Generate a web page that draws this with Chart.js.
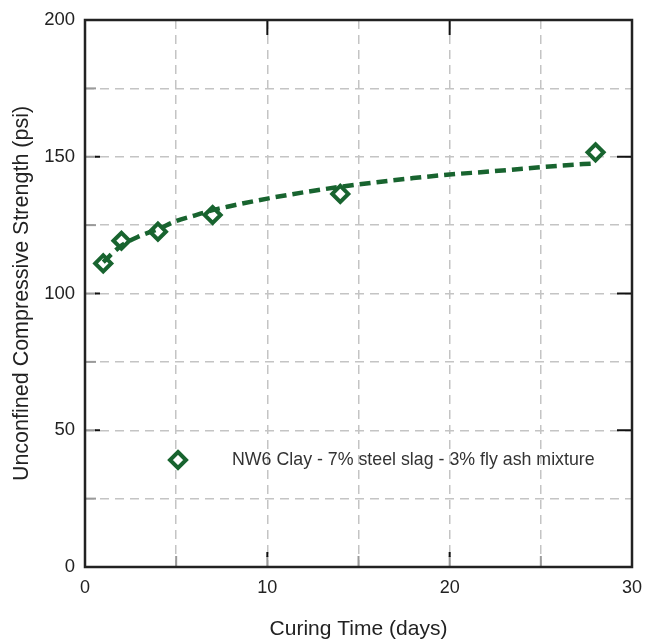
<!DOCTYPE html>
<html>
<head>
<meta charset="utf-8">
<script src="https://cdn.jsdelivr.net/npm/chart.js@4.4.0/dist/chart.umd.min.js"></script>
<style>
    body { margin: 0; background: #fff; }
</style>
</head>
<body>
<canvas id="chart" width="649" height="641"></canvas>
<script>
// 測定値
const curingDays = [1, 2, 4, 7, 14, 28];
const strengthPsi = [111.0, 119.3, 122.6, 128.7, 136.4, 151.6];

// 近似曲線
const trendDays = [1, 2, 3, 4, 5, 6, 7, 8, 10, 12, 14, 16, 18, 20, 22, 24, 26, 28];
const trendPsi = [111.5, 117.5, 121, 123.5, 126.5, 128.5, 130.5, 132, 134.7, 137, 139, 140.7, 142.2, 143.5, 144.5, 145.6, 146.7, 147.6];

const xLabels = [0, 10, 20, 30];
const yLabels = [0, 50, 100, 150, 200];
const seriesLabel = 'NW6 Clay - 7% steel slag - 3% fly ash mixture';

const green = '#18642f';
const fontFamily = '"Liberation Sans", Arial, sans-serif';

// 枠・内向き目盛り・凡例を描く
const framePlugin = {
    id: 'frame',
    afterDraw(chart) {
        const ctx = chart.ctx;
        const a = chart.chartArea;
        const xs = chart.scales.x;
        const ys = chart.scales.y;
        ctx.save();
        ctx.lineWidth = 2;

        xs.ticks.forEach(function (t) {
            if (t.value <= xs.min || t.value >= xs.max) return;
            const px = xs.getPixelForValue(t.value);
            const major = xLabels.includes(t.value);
            ctx.strokeStyle = '#9a9a9a';
            ctx.beginPath(); ctx.moveTo(px, a.bottom); ctx.lineTo(px, a.bottom - 11); ctx.stroke();
            if (major) {
                ctx.strokeStyle = '#111';
                ctx.beginPath(); ctx.moveTo(px, a.bottom - 10); ctx.lineTo(px, a.bottom - 15); ctx.stroke();
                ctx.beginPath(); ctx.moveTo(px, a.top); ctx.lineTo(px, a.top + 15); ctx.stroke();
            }
        });
        ys.ticks.forEach(function (t) {
            if (t.value <= ys.min || t.value >= ys.max) return;
            const py = ys.getPixelForValue(t.value);
            const major = yLabels.includes(t.value);
            ctx.strokeStyle = '#9a9a9a';
            ctx.beginPath(); ctx.moveTo(a.left, py); ctx.lineTo(a.left + 11, py); ctx.stroke();
            if (major) {
                ctx.strokeStyle = '#111';
                ctx.beginPath(); ctx.moveTo(a.left + 10, py); ctx.lineTo(a.left + 15, py); ctx.stroke();
                ctx.beginPath(); ctx.moveTo(a.right, py); ctx.lineTo(a.right - 15, py); ctx.stroke();
            }
        });

        ctx.strokeStyle = '#222';
        ctx.lineWidth = 2.5;
        ctx.strokeRect(a.left, a.top, a.right - a.left, a.bottom - a.top);

        // 凡例
        const lx = a.left + 93, ly = a.top + 440, r = 8;
        ctx.beginPath();
        ctx.moveTo(lx, ly - r); ctx.lineTo(lx + r, ly); ctx.lineTo(lx, ly + r); ctx.lineTo(lx - r, ly); ctx.closePath();
        ctx.fillStyle = '#fff';
        ctx.fill();
        ctx.lineWidth = 4;
        ctx.strokeStyle = green;
        ctx.stroke();

        ctx.fillStyle = '#333';
        ctx.font = '17.8px ' + fontFamily;
        ctx.textAlign = 'left';
        ctx.textBaseline = 'middle';
        ctx.fillText(seriesLabel, a.left + 147, ly);
        ctx.restore();
    }
};

const ctx = document.getElementById('chart').getContext('2d');
const chart = new Chart(ctx, {
    type: 'scatter',
    data: {
        datasets: [{
            label: 'trend',
            data: trendDays.map((d, i) => ({ x: d, y: trendPsi[i] })),
            showLine: true,
            borderColor: green,
            borderWidth: 4.5,
            borderDash: [11, 6],
            pointRadius: 0,
            cubicInterpolationMode: 'monotone',
            order: 0
        }, {
            label: seriesLabel,
            data: curingDays.map((d, i) => ({ x: d, y: strengthPsi[i] })),
            pointStyle: 'rectRot',
            pointRadius: 8,
            pointBorderWidth: 4,
            pointBackgroundColor: '#fff',
            pointBorderColor: green,
            order: 1
        }]
    },
    options: {
        responsive: false,
        animation: false,
        layout: { padding: 0 },
        scales: {
            x: {
                type: 'linear',
                min: 0,
                max: 30,
                afterFit: function (s) { s.height = 74; s.paddingLeft = 0; s.paddingRight = 0; },
                ticks: {
                    stepSize: 5,
                    padding: 10,
                    color: '#222',
                    font: { family: fontFamily, size: 18 },
                    maxRotation: 0,
                    callback: v => xLabels.includes(v) ? v : ''
                },
                grid: { color: '#c4c4c4', lineWidth: 1.5, drawTicks: false },
                border: { display: false, dash: [9, 6] },
                title: {
                    display: true,
                    text: 'Curing Time (days)',
                    color: '#222',
                    font: { family: fontFamily, size: 21 },
                    padding: { top: 0, bottom: -1 }
                }
            },
            y: {
                min: 0,
                max: 200,
                afterFit: function (s) { s.width = 85; s.paddingTop = 0; s.paddingBottom = 0; },
                ticks: {
                    stepSize: 25,
                    padding: 10,
                    color: '#222',
                    font: { family: fontFamily, size: 18.5 },
                    callback: v => yLabels.includes(v) ? v : ''
                },
                grid: { color: '#c4c4c4', lineWidth: 1.5, drawTicks: false },
                border: { display: false, dash: [9, 6] },
                title: {
                    display: true,
                    text: 'Unconfined Compressive Strength (psi)',
                    color: '#222',
                    font: { family: fontFamily, size: 21.5 },
                    padding: { top: 9, bottom: 0 }
                }
            },
            x2: {
                type: 'linear',
                position: 'top',
                display: true,
                afterFit: function (s) { s.height = 20; s.paddingLeft = 0; s.paddingRight = 0; },
                ticks: { display: false },
                grid: { display: false },
                border: { display: false }
            },
            y2: {
                position: 'right',
                display: true,
                afterFit: function (s) { s.width = 17; s.paddingTop = 0; s.paddingBottom = 0; },
                ticks: { display: false },
                grid: { display: false },
                border: { display: false }
            }
        },
        plugins: {
            legend: { display: false },
            tooltip: { enabled: false }
        }
    },
    plugins: [framePlugin]
});
</script>
</body>
</html>
